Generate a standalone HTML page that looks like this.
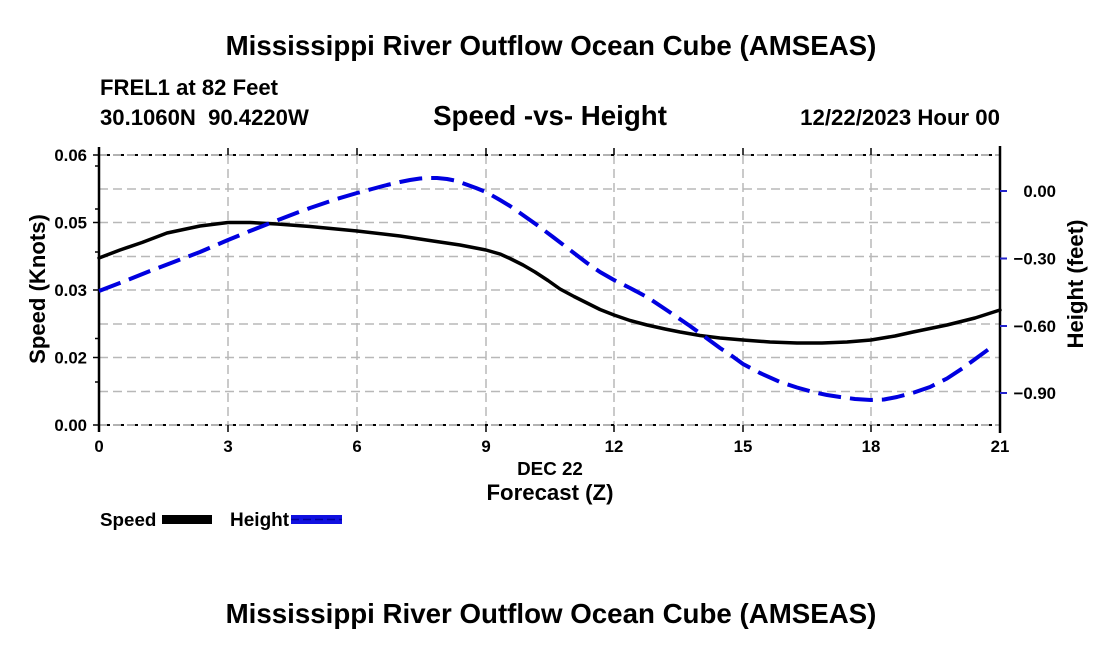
<!DOCTYPE html>
<html>
<head>
<meta charset="utf-8">
<style>
html,body{margin:0;padding:0;background:#fff;}
svg{display:block;}
text{font-family:"Liberation Sans",Arial,sans-serif;font-weight:bold;fill:#000;}
</style>
</head>
<body>
<svg width="1100" height="650" viewBox="0 0 1100 650" xmlns="http://www.w3.org/2000/svg">
<rect x="0" y="0" width="1100" height="650" fill="#fff"/>

<!-- Titles -->
<text x="551" y="55" font-size="27.7" text-anchor="middle">Mississippi River Outflow Ocean Cube (AMSEAS)</text>
<text x="100" y="95" font-size="22.1">FREL1 at 82 Feet</text>
<text x="100" y="125" font-size="22.1" xml:space="preserve">30.1060N  90.4220W</text>
<text x="550" y="125" font-size="27.7" text-anchor="middle">Speed -vs- Height</text>
<text x="1000" y="125" font-size="22.2" text-anchor="end">12/22/2023 Hour 00</text>

<!-- Grid -->
<g stroke="#b8b8b8" stroke-width="1.5" stroke-dasharray="9,5" fill="none">
  <line x1="99" y1="189" x2="1000" y2="189"/>
  <line x1="99" y1="222.5" x2="1000" y2="222.5"/>
  <line x1="99" y1="256.5" x2="1000" y2="256.5"/>
  <line x1="99" y1="290" x2="1000" y2="290"/>
  <line x1="99" y1="324" x2="1000" y2="324"/>
  <line x1="99" y1="357.5" x2="1000" y2="357.5"/>
  <line x1="99" y1="391.5" x2="1000" y2="391.5"/>
  <line x1="228" y1="155" x2="228" y2="425"/>
  <line x1="357" y1="155" x2="357" y2="425"/>
  <line x1="486" y1="155" x2="486" y2="425"/>
  <line x1="614" y1="155" x2="614" y2="425"/>
  <line x1="743" y1="155" x2="743" y2="425"/>
  <line x1="871" y1="155" x2="871" y2="425"/>
</g>

<!-- Top & bottom borders: gray dashed with black dots -->
<g fill="none">
  <line x1="99" y1="155" x2="1000" y2="155" stroke="#999" stroke-width="1.5" stroke-dasharray="9,5"/>
  <line x1="99" y1="155" x2="1000" y2="155" stroke="#000" stroke-width="2" stroke-dasharray="3,11" stroke-dashoffset="-8"/>
  <line x1="99" y1="425" x2="1000" y2="425" stroke="#999" stroke-width="1.5" stroke-dasharray="9,5"/>
  <line x1="99" y1="425" x2="1000" y2="425" stroke="#000" stroke-width="2" stroke-dasharray="3,11" stroke-dashoffset="-8"/>
</g>

<!-- Axes -->
<g stroke="#000" stroke-width="2.5" fill="none">
  <line x1="99" y1="147" x2="99" y2="432"/>
  <line x1="1000" y1="146" x2="1000" y2="433"/>
</g>
<!-- Left major ticks -->
<g stroke="#000" stroke-width="1.5">
  <line x1="93" y1="155" x2="99" y2="155"/>
  <line x1="93" y1="222.5" x2="99" y2="222.5"/>
  <line x1="93" y1="290" x2="99" y2="290"/>
  <line x1="93" y1="357.5" x2="99" y2="357.5"/>
  <line x1="93" y1="425" x2="99" y2="425"/>
  <!-- minor -->
  <line x1="95" y1="166" x2="99" y2="166"/>
  <line x1="95" y1="209" x2="99" y2="209"/>
  <line x1="95" y1="252" x2="99" y2="252"/>
  <line x1="95" y1="338.5" x2="99" y2="338.5"/>
  <line x1="95" y1="382" x2="99" y2="382"/>
</g>
<!-- Top/bottom x ticks -->
<g stroke="#000" stroke-width="1.5">
  <line x1="228" y1="148" x2="228" y2="155"/>
  <line x1="357" y1="148" x2="357" y2="155"/>
  <line x1="486" y1="148" x2="486" y2="155"/>
  <line x1="614" y1="148" x2="614" y2="155"/>
  <line x1="743" y1="148" x2="743" y2="155"/>
  <line x1="871" y1="148" x2="871" y2="155"/>
  <line x1="228" y1="425" x2="228" y2="432"/>
  <line x1="357" y1="425" x2="357" y2="432"/>
  <line x1="486" y1="425" x2="486" y2="432"/>
  <line x1="614" y1="425" x2="614" y2="432"/>
  <line x1="743" y1="425" x2="743" y2="432"/>
  <line x1="871" y1="425" x2="871" y2="432"/>
</g>
<!-- Right blue ticks -->
<g stroke="#2222cc" stroke-width="2">
  <line x1="1000" y1="191" x2="1007" y2="191"/>
  <line x1="1000" y1="258.5" x2="1007" y2="258.5"/>
  <line x1="1000" y1="326" x2="1007" y2="326"/>
  <line x1="1000" y1="393" x2="1007" y2="393"/>
</g>

<!-- Left tick labels -->
<g font-size="16.8" text-anchor="end">
  <text x="87" y="161">0.06</text>
  <text x="87" y="228.5">0.05</text>
  <text x="87" y="296">0.03</text>
  <text x="87" y="363.5">0.02</text>
  <text x="87" y="431">0.00</text>
</g>
<!-- Right tick labels -->
<g font-size="16.8" text-anchor="end">
  <text x="1056" y="197">0.00</text>
  <text x="1056" y="264.5">−0.30</text>
  <text x="1056" y="332">−0.60</text>
  <text x="1056" y="399">−0.90</text>
</g>
<!-- X tick labels -->
<g font-size="16.8" text-anchor="middle">
  <text x="99" y="452">0</text>
  <text x="228" y="452">3</text>
  <text x="357" y="452">6</text>
  <text x="486" y="452">9</text>
  <text x="614" y="452">12</text>
  <text x="743" y="452">15</text>
  <text x="871" y="452">18</text>
  <text x="1000" y="452">21</text>
</g>
<text x="550" y="475" font-size="18.8" text-anchor="middle">DEC 22</text>
<text x="550" y="500" font-size="22.2" text-anchor="middle">Forecast (Z)</text>

<!-- Axis titles -->
<text transform="translate(45,289) rotate(-90)" font-size="22.1" text-anchor="middle">Speed (Knots)</text>
<text transform="translate(1083,284) rotate(-90)" font-size="22.1" text-anchor="middle">Height (feet)</text>

<!-- Speed series -->
<polyline fill="none" stroke="#000" stroke-width="3.5" stroke-linejoin="round" stroke-linecap="round"
 points="99,258 120,250 142,242.5 167,233 200,226 228,222.5 250,222.5 277,224 310,226.5 357,231 400,236 433,241 460,245 486,250 500,254 510,258.5 523,265 535,272 548,280.5 560,289 574,296.5 587,303 600,309.5 614,315 630,320.5 647,325 665,329 680,332 700,335.5 720,338 743,340 770,342 797,343 822,343 847,342 871,340 895,336 913,332 930,328.5 947,325 975,318 1000,310"/>

<!-- Height series -->
<polyline fill="none" stroke="#0000e0" stroke-width="4" stroke-dasharray="23,9" stroke-linejoin="round"
 points="99,291 125,281 150,271 175,261.5 200,252 228,240 250,231 273,222 295,213.5 310,208 335,199.5 357,193 372,189 387,185 400,182 410,180 420,178.5 427,178 437,178 447,179 457,181 465,184 476,188 486,192 500,200 510,206 520,213 537,225 553,237 570,250 587,263 600,272 614,280 630,288 647,297 668,311 690,326 705,337 720,348 732,356 743,364 760,373 780,382 797,387.5 813,392 827,395 840,397 855,399 871,400 884,399.5 897,397 914,392.5 930,387 947,378.5 963,368 978,357 993,346"/>

<!-- Legend -->
<text x="100" y="526" font-size="18.8">Speed</text>
<rect x="162" y="515" width="50" height="9" fill="#000"/>
<text x="230" y="526" font-size="19">Height</text>
<rect x="291" y="515" width="51" height="9" fill="#1010e0"/>
<line x1="291" y1="519.5" x2="342" y2="519.5" stroke="#0000a0" stroke-width="1.5" stroke-dasharray="8,4"/>

<!-- Bottom title -->
<text x="551" y="623" font-size="27.7" text-anchor="middle">Mississippi River Outflow Ocean Cube (AMSEAS)</text>
</svg>
</body>
</html>
